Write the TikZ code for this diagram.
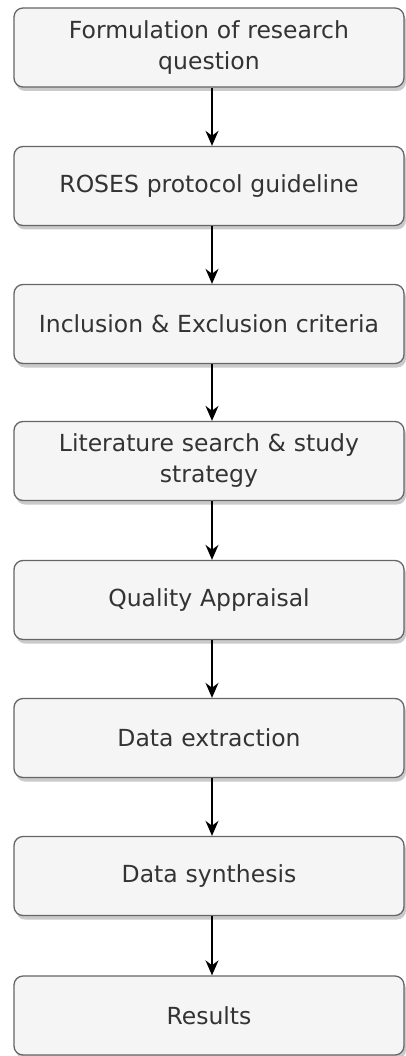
\documentclass[tikz,border=0pt]{standalone}
\usepackage{fontspec}
\setmainfont{DejaVu Sans}
\usetikzlibrary{shadows,arrows.meta}
\definecolor{boxfill}{HTML}{F5F5F5}
\definecolor{boxline}{HTML}{666666}
\definecolor{txt}{HTML}{333333}
\begin{document}
\begin{tikzpicture}[x=1pt,y=-1pt,
  stepbox/.style={draw=boxline, line width=1.3pt, fill=boxfill, rounded corners=9pt,
    minimum width=390pt, minimum height=79pt, text width=380pt, align=center,
    font=\fontsize{23.5}{31}\selectfont, text=txt,
    drop shadow={shadow xshift=2pt, shadow yshift=-4pt, opacity=0.35, fill=black!60}},
  flow/.style={-{Stealth[length=15pt,width=13pt]}, line width=1.6pt, black}]
\useasboundingbox (0,0) rectangle (406,1056);
\node[stepbox] (n1) at (209,47.5) {Formulation of research\\question};
\node[stepbox] (n2) at (209,186) {ROSES protocol guideline};
\node[stepbox] (n3) at (209,324) {Inclusion \& Exclusion criteria};
\node[stepbox] (n4) at (209,461) {Literature search \& study\\strategy};
\node[stepbox] (n5) at (209,600) {Quality Appraisal};
\node[stepbox] (n6) at (209,738) {Data extraction};
\node[stepbox] (n7) at (209,876) {Data synthesis};
\node[stepbox] (n8) at (209,1015.5) {Results};
\foreach \a/\b in {n1/n2,n2/n3,n3/n4,n4/n5,n5/n6,n6/n7,n7/n8}
  \draw[flow] ([xshift=3pt]\a.south) -- ([xshift=3pt]\b.north);
\end{tikzpicture}
\end{document}
